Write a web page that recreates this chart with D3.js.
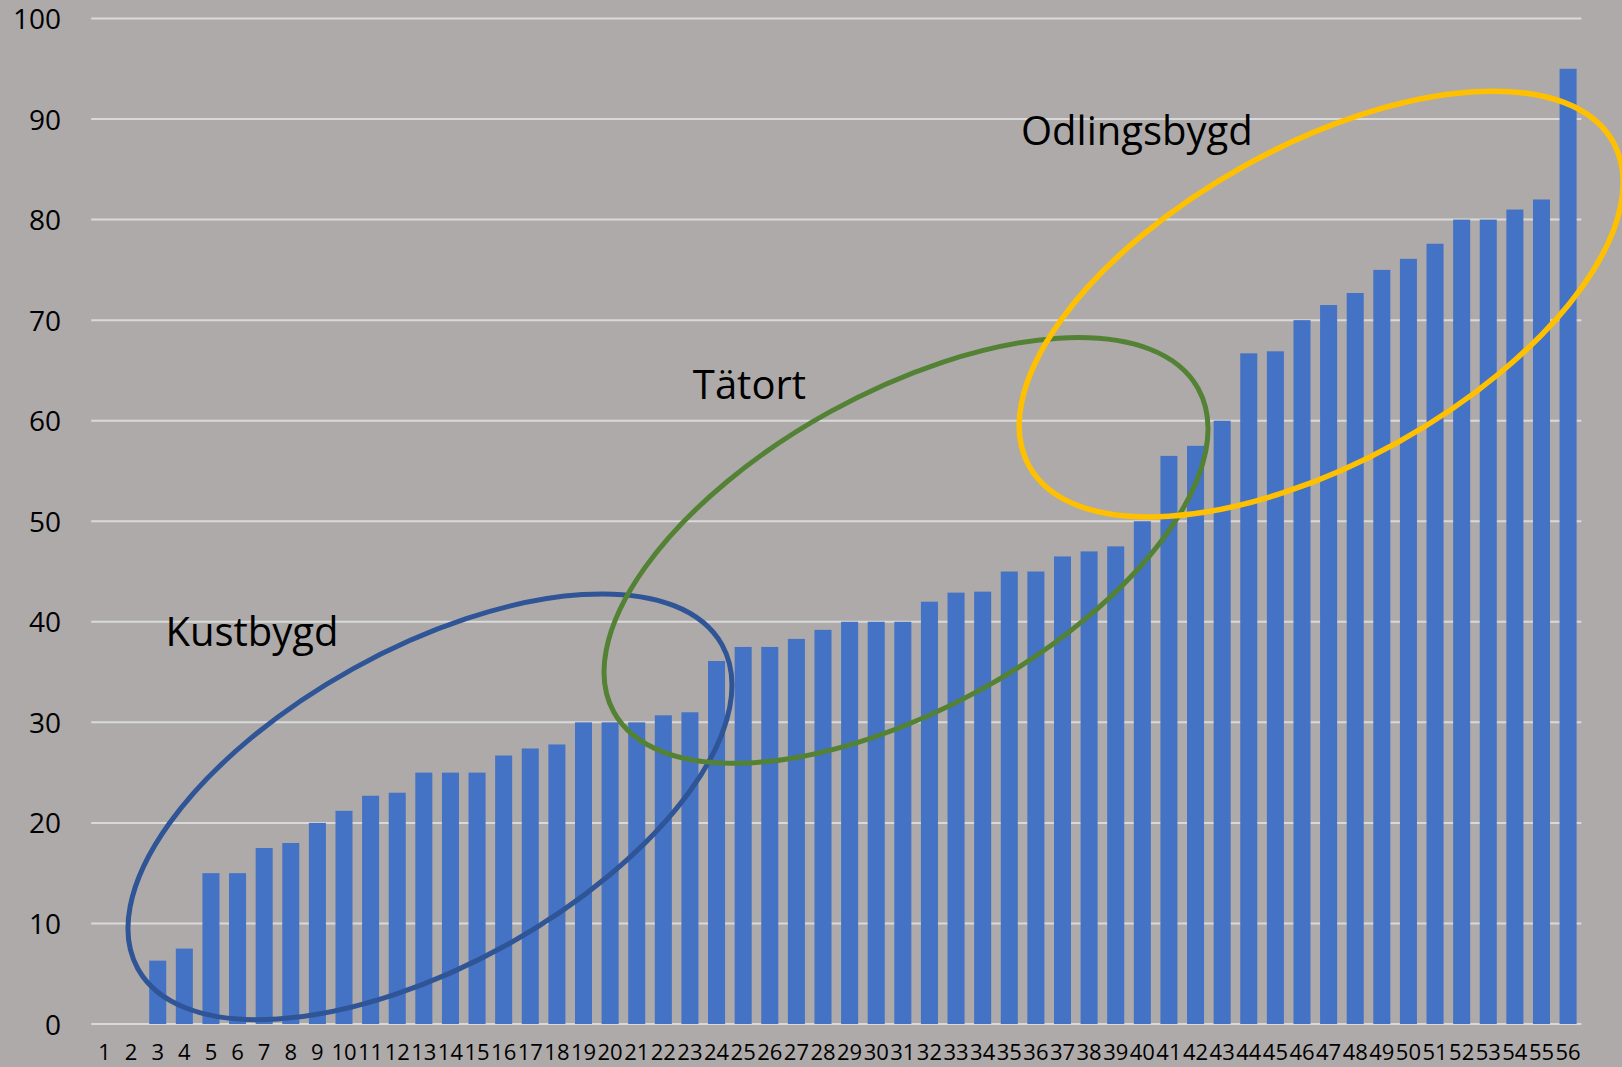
<!DOCTYPE html>
<html>
<head>
<meta charset="utf-8">
<script src="https://cdn.jsdelivr.net/npm/d3@7"></script>
<style>
  html, body { margin: 0; padding: 0; background: #AEAAAA; }
  svg { display: block; }
</style>
</head>
<body>
<script>
// ---- data ----
const categories = d3.range(1, 57).map(String);
const values = [0, 0, 6.3, 7.5, 15, 15, 17.5, 18, 20, 21.2, 22.7, 23, 25, 25, 25, 26.7, 27.4, 27.8, 30, 30,
  30, 30.7, 31, 36.1, 37.5, 37.5, 38.3, 39.2, 40, 40, 40, 42, 42.9, 43, 45, 45, 46.5, 47, 47.5, 50,
  56.5, 57.5, 60, 66.7, 66.9, 70, 71.5, 72.7, 75, 76.1, 77.6, 80, 80, 81, 82, 95];
const yTicks = [0, 10, 20, 30, 40, 50, 60, 70, 80, 90, 100];
// annotation groups: label anchor and ellipse centre in data units (category position, value)
const groupNames = ["Kustbygd", "Tätort", "Odlingsbygd"];
const groupColors = ["#2F5597", "#548235", "#FFC000"];
const labelPos = [[3.29, 37.55], [23.11, 62.15], [35.44, 87.45]];
const ellipseCenter = [[13.23, 21.6], [31.12, 47.1], [46.72, 71.6]];

// ---- layout ----
const W = 1622, H = 1067;
const svg = d3.select("body").append("svg").attr("width", W).attr("height", H);
svg.append("rect").attr("width", W).attr("height", H).attr("fill", "#AEAAAA");

const x = d3.scaleBand().domain(categories).range([91.2, 1581.4]).paddingInner(0.36).paddingOuter(0.18);
const y = d3.scaleLinear().domain([0, 100]).range([1024, 18.5]);
const step = x.step();
const xPos = p => x(categories[0]) + x.bandwidth() / 2 + (p - 1) * step;

// gridlines
svg.append("g").selectAll("line").data(yTicks).join("line")
  .attr("x1", 91.2).attr("x2", 1581.4)
  .attr("y1", d => y(d)).attr("y2", d => y(d))
  .attr("stroke", "#D9D9D9").attr("stroke-width", 2);

// y axis labels
const yAxis = d3.axisLeft(y).tickValues(yTicks).tickSize(0).tickPadding(0);
const gy = svg.append("g").attr("transform", "translate(61,0)").call(yAxis);
gy.select(".domain").remove();
gy.selectAll("text").attr("font-family", "'Open Sans', sans-serif").attr("font-size", 28)
  .attr("fill", "#000").attr("dy", "0.36em");

// bars
svg.append("g").selectAll("rect").data(values).join("rect")
  .attr("x", (d, i) => x(categories[i]))
  .attr("width", x.bandwidth())
  .attr("y", d => y(d))
  .attr("height", d => y(0) - y(d))
  .attr("fill", "#4472C4");

// x axis labels
const xAxis = d3.axisBottom(x).tickSize(0).tickPadding(0);
const gx = svg.append("g").attr("transform", "translate(0,1060)").call(xAxis);
gx.select(".domain").remove();
gx.selectAll("text").attr("font-family", "'Open Sans', sans-serif").attr("font-size", 22)
  .attr("fill", "#000").attr("dy", 0).attr("y", 0);

// ellipses
const semiA = 12.55 * step, semiB = 5.94 * step;
svg.append("g").selectAll("ellipse").data(groupNames).join("ellipse")
  .attr("transform", (d, i) => `translate(${xPos(ellipseCenter[i][0])},${y(ellipseCenter[i][1])}) rotate(-29)`)
  .attr("rx", semiA).attr("ry", semiB)
  .attr("fill", "none")
  .attr("stroke", (d, i) => groupColors[i])
  .attr("stroke-width", (d, i) => i === 2 ? 5.5 : 5);

// labels
svg.append("g").selectAll("text").data(groupNames).join("text")
  .attr("x", (d, i) => xPos(labelPos[i][0]))
  .attr("y", (d, i) => y(labelPos[i][1]))
  .attr("font-family", "'Open Sans', sans-serif").attr("font-size", 40)
  .attr("fill", "#000")
  .text(d => d);
</script>
</body>
</html>
